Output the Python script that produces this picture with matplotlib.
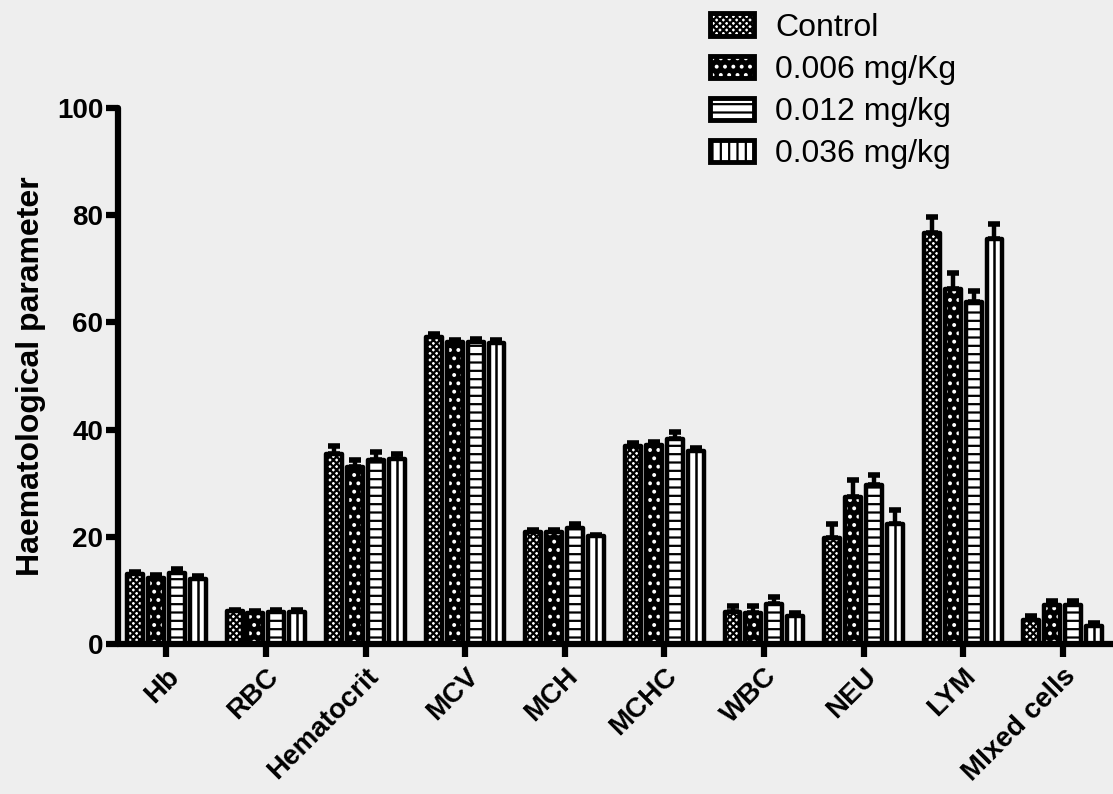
import numpy as np
import matplotlib
matplotlib.use("Agg")
import matplotlib.pyplot as plt
from matplotlib.patches import Patch

plt.rcParams["font.family"] = ["Liberation Sans", "DejaVu Sans"]
plt.rcParams["hatch.linewidth"] = 1.6

categories = ["Hb", "RBC", "Hematocrit", "MCV", "MCH", "MCHC",
              "WBC", "NEU", "LYM", "MIxed cells"]
groups = ["Control", "0.006 mg/Kg", "0.012 mg/kg", "0.036 mg/kg"]

control = [13.0, 6.1, 35.4, 57.3, 20.9, 37.0, 6.0, 19.8, 76.7, 4.4]
dose_006 = [12.4, 5.8, 33.0, 56.3, 20.9, 37.2, 5.8, 27.4, 66.2, 7.3]
dose_012 = [13.2, 6.0, 34.3, 56.4, 21.6, 38.3, 7.4, 29.6, 63.8, 7.3]
dose_036 = [12.2, 6.0, 34.6, 56.2, 20.1, 36.0, 5.2, 22.4, 75.5, 3.4]

control_err = [0.5, 0.3, 1.6, 0.6, 0.4, 0.5, 1.0, 2.6, 3.0, 0.8]
dose_006_err = [0.5, 0.3, 1.4, 0.5, 0.4, 0.5, 1.3, 3.2, 3.0, 0.7]
dose_012_err = [0.7, 0.3, 1.5, 0.5, 0.8, 1.3, 1.4, 2.0, 2.1, 0.7]
dose_036_err = [0.4, 0.3, 0.9, 0.5, 0.3, 0.6, 0.5, 2.6, 2.8, 0.5]

values = [control, dose_006, dose_012, dose_036]
errors = [control_err, dose_006_err, dose_012_err, dose_036_err]

# fill colour, hatch colour, hatch for each group (outline is drawn separately)
fills = ["white", "black", "white", "white"]
hatch_cols = ["black", "white", "black", "black"]
hatches = ["xxxxx", "..", "--", ""]
legend_hatches = ["xxxxx", "..", "--", "||"]

bg = "#eeeeee"
fig = plt.figure(figsize=(11.13, 7.94), dpi=100, facecolor=bg)
ax = fig.add_axes([118 / 1113, 1 - 644 / 794, 1 - 118 / 1113, (644 - 108) / 794])
ax.set_facecolor(bg)

x = np.arange(len(categories))
step = 0.21
width = 0.16
edge_lw = 3.2

for i in range(4):
    pos = x + (i - 1.5) * step
    ax.bar(pos, values[i], width, color=fills[i], edgecolor=hatch_cols[i],
           linewidth=0, hatch=hatches[i], zorder=2)
    if i == 3:
        # centre stripe for the vertical-line pattern
        ax.vlines(pos, 0, values[i], color="black", linewidth=1.8, zorder=3)
    outline = ax.bar(pos, values[i], width, color="none", edgecolor="black",
                     linewidth=edge_lw, zorder=4)
    for b in outline:
        b.set_joinstyle("round")
    ax.errorbar(pos, values[i], yerr=[np.zeros(len(pos)), errors[i]], fmt="none",
                ecolor="black", elinewidth=3.2, capsize=4.5, capthick=4, zorder=1)

ax.set_xlim(-0.485, (1113 - 118) / 99.6 - 0.485)
ax.set_ylim(0, 100)
ax.set_yticks([0, 20, 40, 60, 80, 100])
ax.set_xticks(x)
ax.set_xticklabels(categories, rotation=45, ha="right", rotation_mode="anchor")

for side in ["top", "right"]:
    ax.spines[side].set_visible(False)
for side in ["left", "bottom"]:
    ax.spines[side].set_linewidth(4.5)
    ax.spines[side].set_capstyle("round")

ax.tick_params(axis="both", width=4.5, length=9, labelsize=20, pad=1.5)
ax.tick_params(axis="x", pad=5)
for lbl in ax.get_xticklabels() + ax.get_yticklabels():
    lbl.set_fontweight("bold")

ax.set_ylabel("Haematological parameter", fontsize=23, fontweight="bold", labelpad=8)

handles = []
for i in range(4):
    fill = Patch(facecolor=fills[i], edgecolor=hatch_cols[i], linewidth=0,
                 hatch=legend_hatches[i])
    frame = Patch(facecolor="none", edgecolor="black", linewidth=3.5, joinstyle="round")
    handles.append((fill, frame))
leg = fig.legend(handles, groups, loc="upper left",
                 bbox_to_anchor=(681 / 1113, 1 + 16 / 794),
                 frameon=False, fontsize=23, handlelength=1.4, handleheight=0.7,
                 handletextpad=0.65, labelspacing=0.38)

fig.savefig("out.png", dpi=100, facecolor=bg)
